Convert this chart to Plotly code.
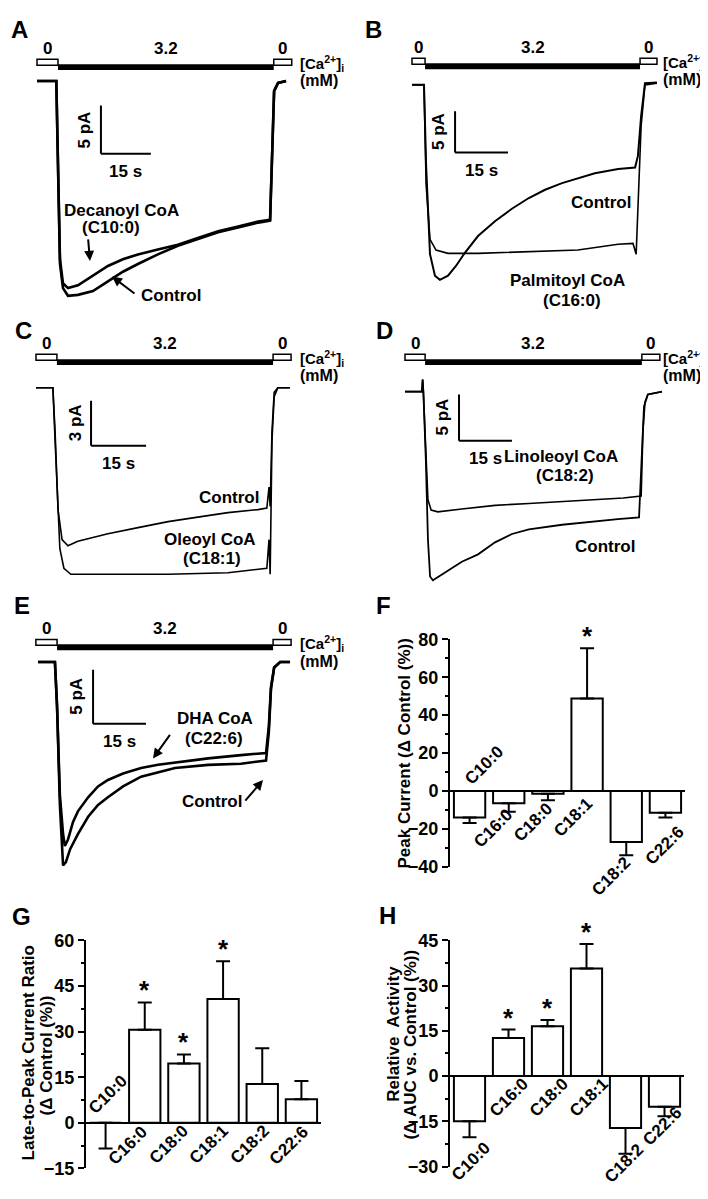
import plotly.graph_objects as go

W, H = 708, 1199
FONT = "Liberation Sans, Arial, Helvetica, sans-serif"

# ---- current recordings: time (s), current (pA, relative to 0-Ca baseline) ----
a_ctrl_t = [0, 5.8, 6.3, 6.9, 7.8, 9.3, 12.3, 16.8, 21.3, 25.8, 30.3, 36.3, 42.3, 48.3, 54.4, 60.4, 66.4, 70.0, 70.6, 71.2, 72.4, 74.8]
a_ctrl_i = [0, 0, -8.8, -19.0, -21.5, -22.3, -22.2, -21.8, -20.8, -19.8, -19.0, -18.0, -17.1, -16.4, -15.7, -15.2, -14.7, -14.5, -8.8, -1.1, -0.2, 0]
a_dec_t = [0, 5.8, 6.3, 6.9, 7.8, 9.3, 12.3, 16.8, 21.3, 25.8, 30.3, 36.3, 42.3, 48.3, 54.4, 60.4, 66.4, 70.0, 70.6, 71.2, 72.4, 74.8]
a_dec_i = [0, 0, -8.5, -18.5, -21.0, -21.5, -21.2, -20.2, -19.2, -18.5, -18.0, -17.5, -17.0, -16.3, -15.6, -15.1, -14.6, -14.4, -8.6, -1.0, -0.2, 0]

b_ctrl_t = [0, 3.4, 4.0, 5.1, 6.5, 7.9, 10.2, 12.5, 14.7, 18.7, 23.5, 28.3, 33.1, 37.7, 42.5, 47.0, 51.8, 58.4, 63.2, 64.0, 64.9, 66.0, 69.4]
b_ctrl_i = [0, 0, -9.8, -20.5, -23.1, -23.6, -23.1, -21.9, -20.5, -18.3, -16.5, -15.0, -13.7, -12.7, -11.9, -11.3, -10.7, -10.2, -10.0, -8.6, -3.8, 0.2, 0.3]
b_pal_t = [0, 3.4, 4.0, 5.1, 6.8, 10.2, 18.7, 32.9, 47.0, 58.4, 62.6, 63.5, 64.0, 64.9, 66.0, 69.4]
b_pal_i = [0, 0, -12.1, -18.7, -20.0, -20.4, -20.4, -20.2, -20.0, -19.3, -19.2, -20.5, -15.7, -5.0, 0, 0.2]

c_ctrl_t = [0, 4.6, 5.2, 6.0, 7.1, 8.7, 11.4, 19.6, 27.8, 36.0, 44.1, 52.3, 60.5, 62.9, 63.5, 63.8, 64.3, 64.9, 65.9, 69.2]
c_ctrl_i = [0, 0, -2.9, -8.1, -10.1, -10.5, -10.2, -9.7, -9.3, -8.9, -8.6, -8.3, -8.1, -8.0, -6.6, -7.9, -2.9, -0.3, 0, 0]
c_ole_t = [0, 4.6, 5.2, 6.5, 7.6, 9.5, 19.6, 36.0, 52.3, 61.9, 62.9, 63.5, 63.8, 64.3, 64.9, 65.9, 69.2]
c_ole_i = [0, 0, -3.5, -10.7, -12.0, -12.4, -12.4, -12.4, -12.3, -12.0, -12.0, -10.1, -12.4, -3.5, -0.6, 0, 0]

d_ctrl_t = [0, 4.8, 5.0, 5.2, 5.9, 6.5, 7.1, 7.9, 10.8, 16.1, 20.7, 25.5, 30.3, 35.1, 44.5, 53.8, 60.3, 66.3, 67.1, 67.7, 68.8, 72.8]
d_ctrl_i = [0, 0, 1.3, 0, -7.4, -16.0, -20.0, -20.4, -19.7, -18.4, -17.6, -16.3, -15.4, -14.9, -14.4, -14.0, -13.8, -13.6, -7.4, -1.6, -0.3, 0]
d_lin_t = [0, 4.8, 5.0, 5.2, 5.9, 6.5, 7.4, 9.3, 16.1, 25.5, 35.1, 44.5, 53.8, 61.8, 66.9, 67.4, 68.0, 68.8, 72.8]
d_lin_i = [0, 0, 1.3, 0, -6.4, -11.7, -12.8, -13.0, -12.7, -12.3, -12.1, -11.9, -11.7, -11.5, -11.3, -4.3, -1.1, -0.3, 0]

e_dha_t = [0, 4.8, 5.4, 6.2, 7.1, 7.6, 8.5, 9.9, 11.3, 14.2, 17.0, 19.8, 24.1, 29.2, 34.0, 38.8, 48.2, 57.5, 64.6, 65.4, 66.0, 66.9, 68.6, 71.4]
e_dha_i = [0, 0, -4.1, -12.3, -15.9, -17.0, -16.4, -14.8, -13.8, -12.5, -11.5, -10.9, -10.3, -9.8, -9.5, -9.3, -8.9, -8.6, -8.4, -5.9, -2.3, -0.5, 0, 0]
e_ctrl_t = [0, 4.8, 5.4, 6.2, 7.1, 7.9, 9.1, 11.3, 14.2, 17.0, 19.8, 24.1, 29.2, 34.0, 38.8, 48.2, 57.5, 64.6, 65.4, 66.0, 66.9, 68.6, 71.4]
e_ctrl_i = [0, 0, -4.1, -13.2, -18.8, -18.5, -17.3, -15.9, -14.3, -13.2, -12.5, -11.5, -10.6, -10.2, -9.8, -9.5, -9.4, -9.1, -6.4, -2.5, -0.5, 0, 0]

# solution switch times (s): 0 Ca | 3.2 mM Ca | 0 Ca | end
a_ca = [0, 6.3, 71.1, 76.5]
b_ca = [0, 3.7, 64.6, 69.4]
c_ca = [0, 5.7, 64.6, 69.5]
d_ca = [0, 5.7, 67.1, 72.2]
e_ca = [-0.6, 5.4, 66.6, 71.7]
ca_levels = ["0", "3.2", "0"]

# ---- summary data (% change vs control) ----
acyl = ["C10:0", "C16:0", "C18:0", "C18:1", "C18:2", "C22:6"]
peak = [-14.0, -6.5, -1.5, 48.8, -27.0, -11.5]
peak_err = [3.0, 4.5, 3.5, 26.5, 7.0, 2.5]
peak_sig = [0, 0, 0, 1, 0, 0]
ltp = [0.0, 30.6, 19.5, 40.7, 12.8, 7.8]
ltp_err = [8.4, 9.0, 3.0, 12.4, 11.7, 6.0]
ltp_sig = [0, 1, 1, 1, 0, 0]
auc = [-15.0, 12.6, 16.5, 35.7, -17.2, -10.2]
auc_err = [5.3, 2.8, 2.1, 8.1, 8.6, 3.1]
auc_sig = [0, 1, 1, 1, 0, 0]


def px(x, y):
    return x / W, 1 - y / H


fig = go.Figure()


def txt(text, x, y, size=17, xanchor="center", angle=0):
    fx, fy = px(x, y)
    fig.add_annotation(text=text, x=fx, y=fy, xref="paper", yref="paper",
                       showarrow=False, xanchor=xanchor, yanchor="middle",
                       textangle=angle,
                       font=dict(family=FONT, size=size, color="black", weight="bold"))


def arrow(tip, tail):
    fx, fy = px(*tip)
    fig.add_annotation(text="", x=fx, y=fy, xref="paper", yref="paper",
                       showarrow=True, arrowhead=2, arrowsize=1, arrowwidth=2,
                       arrowcolor="black", ax=tail[0] - tip[0], ay=tail[1] - tip[1],
                       axref="pixel", ayref="pixel")


# ---- trace panels ----
panels = [
    dict(n=1, L="A", lpos=(11, 12), x0=29, sx=3.33, y0=64, sy=9.8, top=42, ca=a_ca, calx=290,
         tr=[(a_ctrl_t, a_ctrl_i, 2.6), (a_dec_t, a_dec_i, 2.6)], sb=(19.2, -7.55, 5),
         labels=[("Decanoyl CoA", 113, 196), ("(C10:0)", 103, 213), ("Control", 163, 282)]),
    dict(n=2, L="B", lpos=(365, 12), x0=404, sx=3.53, y0=68, sy=8.4, top=41, ca=b_ca, calx=653,
         tr=[(b_ctrl_t, b_ctrl_i, 2.0), (b_pal_t, b_pal_i, 1.6)], sb=(12.2, -8.2, 5),
         labels=[("Control", 593, 188), ("Palmitoyl CoA", 559, 267), ("(C16:0)", 564, 287)]),
    dict(n=3, L="C", lpos=(15, 318), x0=28, sx=3.67, y0=376, sy=15.3, top=342, ca=c_ca, calx=290,
         tr=[(c_ctrl_t, c_ctrl_i, 1.6), (c_ole_t, c_ole_i, 1.6)], sb=(15.0, -3.86, 3),
         labels=[("Control", 221, 488), ("Oleoyl CoA", 202, 530), ("(C18:1)", 204, 550)]),
    dict(n=4, L="D", lpos=(376, 318), x0=397, sx=3.53, y0=380, sy=9.4, top=342, ca=d_ca, calx=653,
         tr=[(d_ctrl_t, d_ctrl_i, 1.8), (d_lin_t, d_lin_i, 1.6)], sb=(15.3, -5.3, 5),
         labels=[("Linoleoyl CoA", 553, 446), ("(C18:2)", 557, 465), ("Control", 597, 537)]),
    dict(n=5, L="E", lpos=(14, 597), x0=30, sx=3.53, y0=655, sy=11.0, top=632, ca=e_ca, calx=290,
         tr=[(e_ctrl_t, e_ctrl_i, 2.6), (e_dha_t, e_dha_i, 2.6)], sb=(15.6, -5.7, 5),
         labels=[("DHA CoA", 207, 712), ("(C22:6)", 206, 733), ("Control", 204, 797)]),
]

layout_axes = {}
for p in panels:
    n = p["n"]
    xa, ya = f"x{n}", f"y{n}"
    left, right = p["x0"] - 5, p["x0"] + 290
    top, bottom = p["y0"] - 30, p["y0"] + 240
    layout_axes[f"xaxis{n}"] = dict(domain=[left / W, right / W], range=[-5 / p["sx"], 290 / p["sx"]],
                                    visible=False, anchor=ya)
    layout_axes[f"yaxis{n}"] = dict(domain=[1 - bottom / H, 1 - top / H], range=[-240 / p["sy"], 30 / p["sy"]],
                                    visible=False, anchor=xa)
    for t, i, lw in p["tr"]:
        fig.add_trace(go.Scatter(x=t, y=i, mode="lines", line=dict(color="black", width=lw),
                                 xaxis=xa, yaxis=ya, showlegend=False, hoverinfo="skip"))
    # solution bar
    ca = p["ca"]
    ytop = p["top"]
    fig.add_shape(type="rect", xref=xa, yref="paper", x0=ca[0], x1=ca[1],
                  y0=1 - (ytop + 6) / H, y1=1 - ytop / H, line=dict(color="black", width=1.5), fillcolor="white")
    fig.add_shape(type="rect", xref=xa, yref="paper", x0=ca[2], x1=ca[3],
                  y0=1 - (ytop + 6) / H, y1=1 - ytop / H, line=dict(color="black", width=1.5), fillcolor="white")
    fig.add_shape(type="rect", xref=xa, yref="paper", x0=ca[1], x1=ca[2],
                  y0=1 - (ytop + 11) / H, y1=1 - (ytop + 5) / H, line=dict(color="black", width=0), fillcolor="black")
    for k, lev in enumerate(ca_levels):
        fig.add_annotation(text=lev, x=(ca[k] + ca[k + 1]) / 2, y=1 - (ytop - 11) / H, xref=xa, yref="paper",
                           showarrow=False, yanchor="middle",
                           font=dict(family=FONT, size=17, color="black", weight="bold"))
    txt("[Ca<sup>2+</sup>]<sub>i</sub>", p["calx"], ytop + 4, size=15, xanchor="left")
    txt("(mM)", p["calx"], ytop + 22, size=16, xanchor="left")
    # scale bar
    st, si, amp = p["sb"]
    fig.add_shape(type="line", xref=xa, yref=ya, x0=st, x1=st, y0=si, y1=si + amp, line=dict(color="black", width=2))
    fig.add_shape(type="line", xref=xa, yref=ya, x0=st, x1=st + 15, y0=si, y1=si, line=dict(color="black", width=2))
    fig.add_annotation(text=f"{amp} pA", x=st, y=si + amp / 2, xref=xa, yref=ya, showarrow=False,
                       xshift=-16, textangle=-90, font=dict(family=FONT, size=17, color="black", weight="bold"))
    fig.add_annotation(text="15 s", x=st + 7.5, y=si, xref=xa, yref=ya, showarrow=False,
                       yshift=-18, font=dict(family=FONT, size=17, color="black", weight="bold"))
    for s, lx, ly in p["labels"]:
        txt(s, lx, ly)
    txt(p["L"], *p["lpos"], size=24)

arrow((82, 247), (80, 224))
arrow((104, 263), (128, 281))
arrow((145, 753), (163, 728))
arrow((255, 775), (236, 797))

# ---- bar panels ----
bars = [
    dict(n=6, L="F", lpos=(375, 597), vals=peak, err=peak_err, sig=peak_sig, xd=(442, 677), yd=(632, 863),
         rng=[-40, 80], dtick=20, minor=10,
         titles=[("Peak Current (\u0394 Control (%))", 397, 748)],
         cat=[(476, 760), (485, 824), (525, 818), (565, 813), (603, 873), (657, 842)]),
    dict(n=7, L="G", lpos=(13, 914), vals=ltp, err=ltp_err, sig=ltp_sig, xd=(78, 313), yd=(938, 1170),
         rng=[-15, 60], dtick=15, minor=7.5,
         titles=[("Late-to-Peak Current Ratio", 20, 1053), ("(\u0394 Control (%))", 38, 1055)],
         cat=[(100, 1095), (120, 1147), (161, 1146), (201, 1146), (242, 1146), (281, 1147)]),
    dict(n=8, L="H", lpos=(379, 913), vals=auc, err=auc_err, sig=auc_sig, xd=(442, 676), yd=(938, 1168),
         rng=[-30, 45], dtick=15, minor=7.5,
         titles=[("Relative  Activity", 386, 1033), ("(\u0394 AUC vs. Control (%))", 403, 1044)],
         cat=[(463, 1163), (501, 1098), (541, 1098), (581, 1098), (616, 1165), (654, 1127)]),
]

for b in bars:
    n = b["n"]
    xa, ya = f"x{n}", f"y{n}"
    layout_axes[f"xaxis{n}"] = dict(domain=[b["xd"][0] / W, b["xd"][1] / W], range=[-0.5, 5.5],
                                    type="category", visible=False, anchor=ya)
    layout_axes[f"yaxis{n}"] = dict(domain=[1 - b["yd"][1] / H, 1 - b["yd"][0] / H], range=b["rng"],
                                    anchor=xa, dtick=b["dtick"], showline=True, linecolor="black", linewidth=2,
                                    ticks="outside", ticklen=6, tickwidth=2, tickcolor="black",
                                    showgrid=False, zeroline=True, zerolinecolor="black", zerolinewidth=2,
                                    tickfont=dict(family=FONT, size=18, color="black", weight="bold"),
                                    minor=dict(dtick=b["minor"], ticks="outside", ticklen=3, tickwidth=1.5,
                                               tickcolor="black", showgrid=False))
    up = [e if v > 0 else 0 for v, e in zip(b["vals"], b["err"])]
    down = [e if v <= 0 else 0 for v, e in zip(b["vals"], b["err"])]
    fig.add_trace(go.Bar(x=acyl, y=b["vals"], width=0.8, xaxis=xa, yaxis=ya, showlegend=False,
                         marker=dict(color="white", line=dict(color="black", width=2)),
                         error_y=dict(type="data", symmetric=False, array=up, arrayminus=down,
                                      color="black", thickness=2, width=7),
                         hoverinfo="skip"))
    for c, v, e, s in zip(acyl, b["vals"], b["err"], b["sig"]):
        if s:
            fig.add_annotation(text="*", x=c, y=v + e, xref=xa, yref=ya, showarrow=False,
                               yanchor="middle", yshift=12,
                               font=dict(family=FONT, size=26, color="black", weight="bold"))
    for c, (lx, ly) in zip(acyl, b["cat"]):
        txt(c, lx, ly, size=17, angle=-45)
    for s, lx, ly in b["titles"]:
        txt(s, lx, ly, size=17, angle=-90)
    txt(b["L"], *b["lpos"], size=24)

fig.update_layout(width=W, height=H, margin=dict(l=0, r=0, t=0, b=0),
                  paper_bgcolor="white", plot_bgcolor="white", **layout_axes)

fig.write_html("out.html")
